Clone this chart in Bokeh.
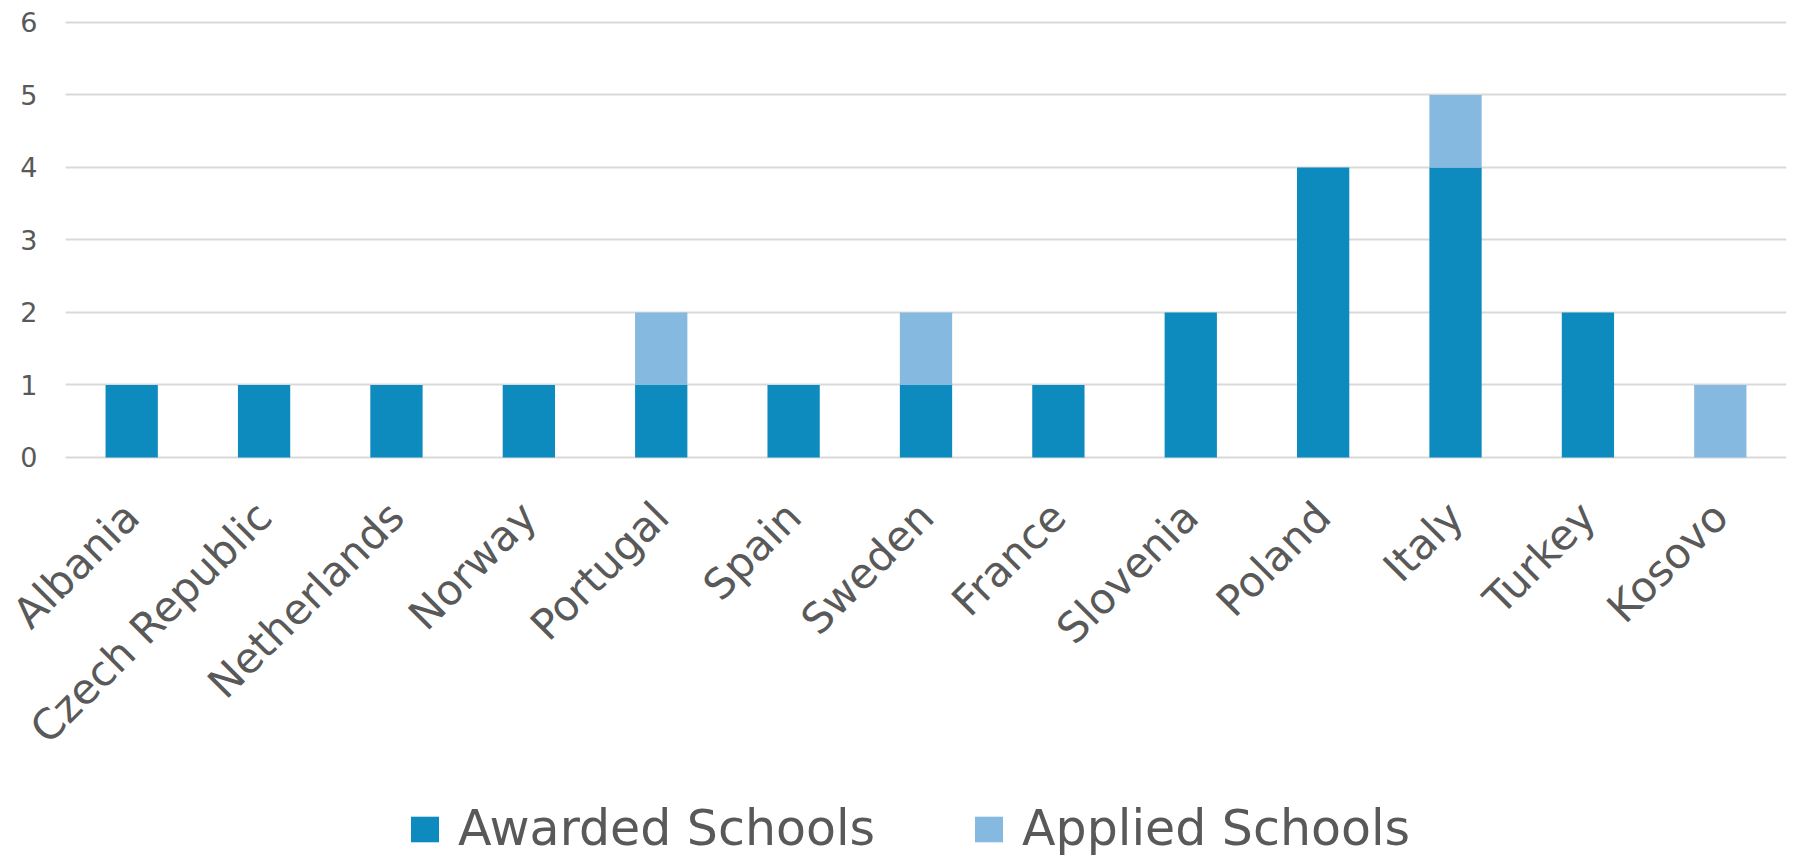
import math
from bokeh.plotting import figure
from bokeh.models import Range1d, Legend, LegendItem, FixedTicker, ColumnDataSource
from bokeh.embed import file_html
from bokeh.resources import INLINE

countries = ["Albania", "Czech Republic", "Netherlands", "Norway", "Portugal", "Spain",
             "Sweden", "France", "Slovenia", "Poland", "Italy", "Turkey", "Kosovo"]
awarded = [1, 1, 1, 1, 1, 1, 1, 1, 2, 4, 4, 2, 0]
applied = [0, 0, 0, 0, 1, 0, 1, 0, 0, 0, 1, 0, 1]
series_names = ["Awarded Schools", "Applied Schools"]
colors = ["#0E8BBE", "#86B9E0"]
y_ticks = [0, 1, 2, 3, 4, 5, 6]

FONT = "DejaVu Sans"
TXT = "#595959"

positions = list(range(len(countries)))
source = ColumnDataSource(dict(x=positions, country=countries, awarded=awarded, applied=applied))

# The frame covers the whole canvas; both axes are pinned inside it so that the
# rotated category labels and the legend below the bars are not clipped.
p = figure(x_range=Range1d(-0.991, len(countries) - 0.5), y_range=Range1d(-5.517, 6.303),
           frame_width=1786, frame_height=857, output_backend="svg", toolbar_location=None,
           min_border_left=0, min_border_right=5, min_border_top=0, min_border_bottom=0)

rs = p.vbar_stack(["awarded", "applied"], x="x", width=0.395, color=colors,
                  source=source, line_color=None)

p.outline_line_color = None
p.background_fill_color = "white"
p.xgrid.grid_line_color = None
p.ygrid.grid_line_color = None

# y axis at the left edge of the category band; its long inward ticks are the gridlines,
# drawn beneath the bars
p.yaxis.fixed_location = -0.5
p.yaxis.level = "underlay"
p.yaxis.ticker = FixedTicker(ticks=y_ticks)
p.yaxis.axis_line_color = None
p.yaxis.minor_tick_line_color = None
p.yaxis.major_tick_in = 1721
p.yaxis.major_tick_out = 0
p.yaxis.major_tick_line_color = "#D9D9D9"
p.yaxis.major_tick_line_width = 2
p.yaxis.major_label_text_font = FONT
p.yaxis.major_label_text_font_size = "27px"
p.yaxis.major_label_text_color = TXT
p.yaxis.major_label_standoff = 28

p.xaxis.fixed_location = 0
p.xaxis.ticker = FixedTicker(ticks=positions)
p.xaxis.major_label_overrides = {i: c for i, c in zip(positions, countries)}
p.xaxis.axis_line_color = None
p.xaxis.major_tick_line_color = None
p.xaxis.minor_tick_line_color = None
p.xaxis.major_label_orientation = math.pi / 4
p.xaxis.major_label_text_font = FONT
p.xaxis.major_label_text_font_size = "42px"
p.xaxis.major_label_text_color = TXT
p.xaxis.major_label_standoff = 46

legend = Legend(items=[LegendItem(label=series_names[i], renderers=[rs[i]]) for i in range(2)],
                orientation="horizontal", location=(407, 0),
                label_text_font=FONT, label_text_font_size="49px", label_text_color=TXT,
                glyph_width=35, glyph_height=32, label_standoff=16, spacing=96,
                border_line_color=None, background_fill_alpha=0, margin=0, padding=0)
p.add_layout(legend, "center")

open("out.html", "w").write(file_html(p, INLINE))
